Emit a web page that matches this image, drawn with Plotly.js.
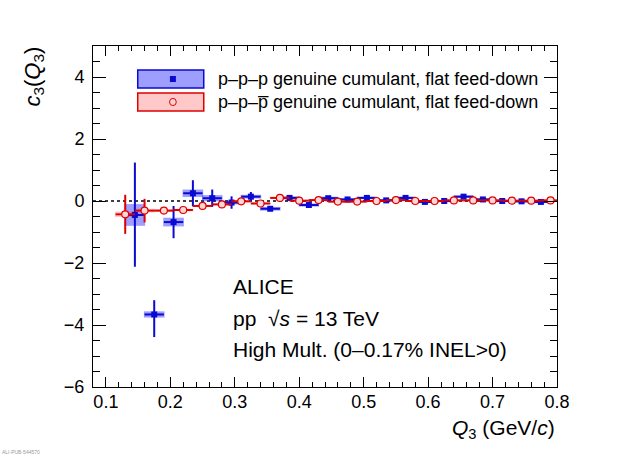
<!DOCTYPE html>
<html>
<head>
<meta charset="utf-8">
<script src="https://cdn.plot.ly/plotly-3.0.1.min.js"></script>
<style>
  body { margin: 0; background: #fff; }
  #chart { width: 620px; height: 456px; }
</style>
</head>
<body>
<div id="chart"></div>
<script>
// p-p-p genuine cumulant
const pppQ3 = [0.145, 0.175, 0.205, 0.235, 0.265, 0.295, 0.325, 0.355, 0.385, 0.415, 0.445,
               0.475, 0.505, 0.535, 0.565, 0.595, 0.625, 0.655, 0.685, 0.715, 0.745, 0.775];
const pppC3 = [-0.45, -3.66, -0.68, 0.25, 0.09, -0.05, 0.14, -0.25, 0.10, -0.13, 0.09,
               0.05, 0.10, 0.02, 0.10, -0.03, 0.00, 0.14, 0.05, 0.00, -0.01, -0.03];
const pppStatUp = [1.69, 0.46, 0.52, 0.42, 0.28, 0.20, 0.15, 0.08, 0.06, 0.05, 0.05,
                   0.04, 0.04, 0.04, 0.04, 0.03, 0.03, 0.03, 0.03, 0.03, 0.03, 0.03];
const pppStatDown = [1.67, 0.73, 0.52, 0.42, 0.28, 0.20, 0.15, 0.08, 0.06, 0.05, 0.05,
                     0.04, 0.04, 0.04, 0.04, 0.03, 0.03, 0.03, 0.03, 0.03, 0.03, 0.03];
const pppSyst = [0.35, 0.10, 0.14, 0.12, 0.10, 0.06, 0.06, 0.06, 0.05, 0.05, 0.05,
                 0.04, 0.04, 0.04, 0.04, 0.04, 0.04, 0.04, 0.04, 0.04, 0.04, 0.04];

// p-p-pbar genuine cumulant
const ppaQ3 = [0.13, 0.16, 0.19, 0.22, 0.25, 0.28, 0.31, 0.34, 0.37, 0.40, 0.43, 0.46,
               0.49, 0.52, 0.55, 0.58, 0.61, 0.64, 0.67, 0.70, 0.73, 0.76, 0.79];
const ppaC3 = [-0.43, -0.31, -0.31, -0.29, -0.16, -0.11, -0.01, -0.08, 0.10, 0.01, 0.03, -0.02,
               -0.02, 0.00, 0.03, 0.00, 0.00, 0.02, 0.02, 0.02, 0.01, 0.01, 0.02];
const ppaStat = [0.63, 0.38, 0.05, 0.04, 0.03, 0.03, 0.02, 0.02, 0.02, 0.02, 0.02, 0.02,
                 0.02, 0.02, 0.02, 0.02, 0.02, 0.02, 0.02, 0.02, 0.02, 0.02, 0.02];
const ppaSyst = [0.09, 0.06, 0.04, 0.04, 0.03, 0.03, 0.03, 0.03, 0.03, 0.03, 0.03, 0.03,
                 0.03, 0.03, 0.03, 0.03, 0.03, 0.03, 0.03, 0.03, 0.03, 0.03, 0.03];

const binHalf = 0.015;
const BLUE = '#0a0ad2';
const RED = '#dd0000';

function boxes(xs, ys, sys, fill) {
  return {
    type: 'bar', x: xs,
    base: ys.map((v, i) => v - sys[i]),
    y: sys.map(s => 2 * s),
    width: 0.032,
    marker: { color: fill, line: { width: 0 } },
    hoverinfo: 'skip', showlegend: false
  };
}

const traces = [
  boxes(pppQ3, pppC3, pppSyst, 'rgba(40,40,255,0.45)'),
  boxes(ppaQ3, ppaC3, ppaSyst, 'rgba(255,60,60,0.28)'),
  {
    type: 'scatter', mode: 'markers', x: pppQ3, y: pppC3,
    marker: { symbol: 'square', size: 6, color: BLUE },
    error_y: { type: 'data', symmetric: false, array: pppStatUp, arrayminus: pppStatDown,
               color: BLUE, thickness: 2, width: 0 },
    error_x: { type: 'data', array: pppQ3.map(() => binHalf), color: BLUE, thickness: 2, width: 0 },
    showlegend: false
  },
  {
    type: 'scatter', mode: 'markers', x: ppaQ3, y: ppaC3,
    marker: { symbol: 'circle', size: 7, color: '#ffd6d6', line: { color: RED, width: 1.2 } },
    error_y: { type: 'data', array: ppaStat, color: RED, thickness: 2, width: 0 },
    error_x: { type: 'data', array: ppaQ3.map(() => binHalf), color: RED, thickness: 2, width: 0 },
    showlegend: false
  }
];

const FONT = 'Liberation Sans, Arial, Helvetica, sans-serif';

const layout = {
  width: 620, height: 456,
  margin: { l: 93, r: 63, t: 46, b: 69 },
  paper_bgcolor: '#fff', plot_bgcolor: '#fff',
  barmode: 'overlay',
  font: { family: FONT, size: 18, color: '#000' },
  showlegend: false,
  xaxis: {
    range: [0.08, 0.8], dtick: 0.1, tick0: 0, tickformat: '.1f',
    ticks: 'inside', ticklen: 10, tickwidth: 1, tickcolor: '#000',
    minor: { dtick: 0.02, ticks: 'inside', ticklen: 5, tickcolor: '#000' },
    showline: true, linecolor: '#000', linewidth: 1, mirror: 'ticks',
    showgrid: false, zeroline: false, ticklabelstandoff: -2,
    tickfont: { size: 18 }
  },
  yaxis: {
    range: [-6, 5], dtick: 2, tick0: 0,
    ticks: 'inside', ticklen: 13, tickwidth: 1, tickcolor: '#000',
    minor: { dtick: 0.5, ticks: 'inside', ticklen: 7, tickcolor: '#000' },
    showline: true, linecolor: '#000', linewidth: 1, mirror: 'ticks',
    showgrid: false, zeroline: false, ticklabelstandoff: 4,
    tickfont: { size: 18 }
  },
  shapes: [
    // zero reference line
    { type: 'line', xref: 'paper', yref: 'y', x0: 0, x1: 1, y0: 0, y1: 0,
      line: { color: '#000', width: 1.5, dash: '3px,3px' }, layer: 'below' },
    // legend boxes
    { type: 'rect', xref: 'paper', yref: 'paper', x0: 0.0964, x1: 0.2387, y0: 0.8768, y1: 0.9296,
      fillcolor: 'rgba(40,40,255,0.45)', line: { color: BLUE, width: 1.5 } },
    { type: 'rect', xref: 'paper', yref: 'paper', x0: 0.1658, x1: 0.1787, y0: 0.8944, y1: 0.9120,
      fillcolor: BLUE, line: { width: 0 } },
    { type: 'rect', xref: 'paper', yref: 'paper', x0: 0.0964, x1: 0.2387, y0: 0.8094, y1: 0.8622,
      fillcolor: 'rgba(255,60,60,0.28)', line: { color: RED, width: 1.5 } },
    { type: 'circle', xref: 'paper', yref: 'paper', x0: 0.1650, x1: 0.1795, y0: 0.8253, y1: 0.8463,
      fillcolor: '#ffd6d6', line: { color: RED, width: 1 } }
  ],
  annotations: [
    { xref: 'paper', yref: 'paper', x: 0.266, y: 0.903, xanchor: 'left', yanchor: 'middle',
      showarrow: false, text: 'p\u2013p\u2013p genuine cumulant, flat feed-down', font: { size: 18 } },
    { xref: 'paper', yref: 'paper', x: 0.266, y: 0.836, xanchor: 'left', yanchor: 'middle',
      showarrow: false, text: 'p\u2013p\u2013p\u0305 genuine cumulant, flat feed-down', font: { size: 18 } },
    { xref: 'paper', yref: 'paper', x: 0.298, y: 0.296, xanchor: 'left', yanchor: 'middle',
      showarrow: false, text: 'ALICE', font: { size: 21 } },
    { xref: 'paper', yref: 'paper', x: 0.298, y: 0.202, xanchor: 'left', yanchor: 'middle',
      showarrow: false, text: 'pp  \u221A<i>s</i> = 13 TeV', font: { size: 21 } },
    { xref: 'paper', yref: 'paper', x: 0.298, y: 0.111, xanchor: 'left', yanchor: 'middle',
      showarrow: false, text: 'High Mult. (0\u20130.17% INEL>0)', font: { size: 21 } },
    // axis titles
    { xref: 'paper', yref: 'paper', x: 1, y: -0.122, xanchor: 'right', yanchor: 'middle',
      showarrow: false, text: '<i>Q</i><sub>3</sub> (GeV/<i>c</i>)', font: { size: 21 } },
    { xref: 'paper', yref: 'paper', x: -0.128, y: 1.003, xanchor: 'center', yanchor: 'top',
      textangle: -90, showarrow: false, text: '<i>c</i><sub>3</sub>(<i>Q</i><sub>3</sub>)',
      font: { size: 22 } },
    { xref: 'paper', yref: 'paper', x: -0.201, y: -0.19, xanchor: 'left', yanchor: 'middle',
      showarrow: false, text: 'ALI-PUB-544570', font: { size: 5, color: '#999' } }
  ]
};

Plotly.newPlot('chart', traces, layout, { displayModeBar: false, staticPlot: true });
</script>
</body>
</html>
